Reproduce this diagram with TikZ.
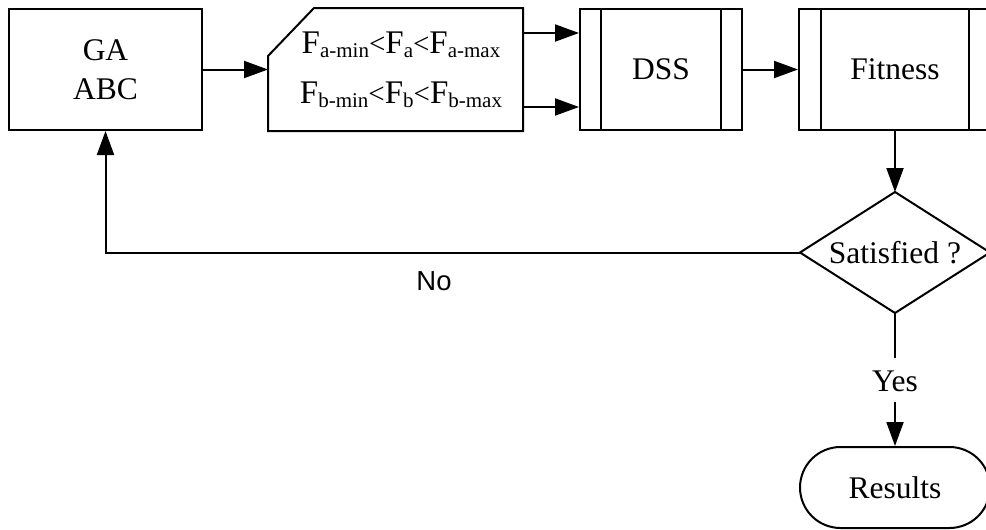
\documentclass[tikz,border=0pt]{standalone}
\usepackage{fontspec}
\setmainfont{Liberation Serif}
\newfontfamily\labelsans{Liberation Sans}
\usetikzlibrary{arrows.meta}
% F with a lowered subscript, and a slightly smaller "<"
\newcommand\Fsub[1]{F\raisebox{-4.5pt}{\fontsize{21}{21}\selectfont #1}}
\newcommand\lessthan{{\fontsize{29}{29}\selectfont<}}
\begin{document}
\begin{tikzpicture}[x=1pt,y=-1pt,line width=2pt,
  every node/.style={font=\fontsize{31.5}{39}\selectfont},
  procbox/.style={draw,rectangle,inner sep=0pt,minimum width=#1,minimum height=121pt},
  ghost/.style={rectangle,inner sep=0pt,outer sep=1pt},
  arr/.style={-{Triangle[length=24pt,width=17pt]}}]
\useasboundingbox (0,0) rectangle (986,530);
\clip (0,0) rectangle (986,530);

% algorithm block
\node[procbox=193pt,align=center] (ga) at (105.5,69.5) {GA\\ABC};

% parameter limits (manual input shape)
\node[ghost,minimum width=253pt,minimum height=121pt] (inp) at (395.5,69.5) {};
\draw (inp.south west) -- ([yshift=-48pt]inp.north west) -- ([xshift=46pt]inp.north west)
  -- (inp.north east) -- (inp.south east) -- cycle;
\node[align=center,font=\fontsize{33}{50}\selectfont] (lim) at (401,70)
  {\Fsub{a-min}\lessthan\Fsub{a}\lessthan\Fsub{a-max}\\
   \Fsub{b-min}\lessthan\Fsub{b}\lessthan\Fsub{b-max}};

% predefined processes
\node[procbox=162pt] (dss) at (661,69.5) {DSS};
\draw ([xshift=22pt]dss.north west) -- ([xshift=22pt]dss.south west);
\draw ([xshift=-22pt]dss.north east) -- ([xshift=-22pt]dss.south east);

\node[procbox=192pt] (fit) at (895,69.5) {Fitness};
\draw ([xshift=23pt]fit.north west) -- ([xshift=23pt]fit.south west);
\draw ([xshift=-23pt]fit.north east) -- ([xshift=-23pt]fit.south east);

% decision
\node[ghost,outer sep=0pt,minimum width=190pt,minimum height=121pt] (sat) at (895,252.5) {Satisfied ?};
\draw (sat.north) -- (sat.east) -- (sat.south) -- (sat.west) -- cycle;

% terminal
\node[draw,rectangle,rounded corners=40.5pt,minimum width=190pt,minimum height=81pt,inner sep=0pt]
  (res) at (895,487.5) {Results};

% yes label on the exit branch
\node (yes) at (895,381) {Yes};
\coordinate (yesTop) at (895,358);
\coordinate (yesBot) at (895,402);

% feedback label
\node[font=\labelsans\fontsize{27.5}{33}\selectfont] (no) at (434,281) {No};

% connectors
\draw[arr] (ga.east) -- (inp.west);
\draw[arr] ([yshift=36.5pt]inp.east) -- ([yshift=36.5pt]dss.west);
\draw[arr] ([yshift=-37.5pt]inp.east) -- ([yshift=-37.5pt]dss.west);
\draw[arr] (dss.east) -- (fit.west);
\draw[arr] (fit.south) -- (sat.north);
\draw[arr] (sat.west) -| (ga.south);
\draw (sat.south) -- (yesTop);
\draw[arr] (yesBot) -- (res.north);
\end{tikzpicture}
\end{document}
